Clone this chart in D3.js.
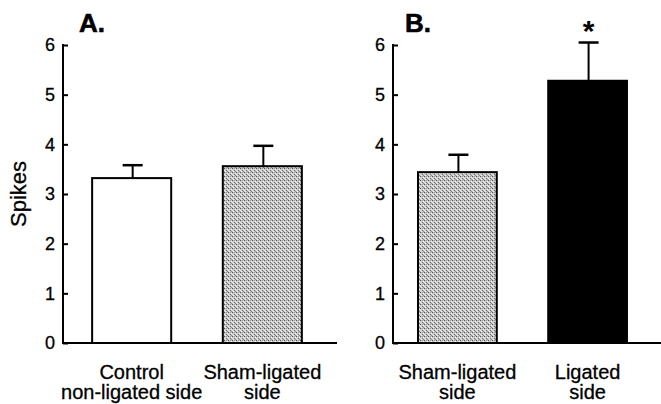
<!DOCTYPE html>
<html>
<head>
<meta charset="utf-8">
<script src="https://d3js.org/d3.v7.min.js"></script>
<style>
  body { margin: 0; background: #fff; }
  text { font-family: "Liberation Sans", Arial, Helvetica, sans-serif; }
</style>
</head>
<body>
<div id="my_dataviz"></div>
<script>
// data (mean spikes + upper error)
var panelTitles = ["A.", "B."];
var catsA = [["Control", "non-ligated side"], ["Sham-ligated", "side"]];
var meansA = [3.32, 3.56];
var errsA = [0.26, 0.41];
var fillsA = ["white", "stipple"];
var catsB = [["Sham-ligated", "side"], ["Ligated", "side"]];
var meansB = [3.44, 5.28];
var errsB = [0.35, 0.77];
var fillsB = ["stipple", "black"];
var signifB = ["", "*"];
var yTicks = [0, 1, 2, 3, 4, 5, 6];

var width = 661, height = 404;

var svg = d3.select("#my_dataviz")
  .append("svg")
    .attr("width", width)
    .attr("height", height);

// stipple pattern for the grey bars
var pat = svg.append("defs").append("pattern")
    .attr("id", "stipple")
    .attr("patternUnits", "userSpaceOnUse")
    .attr("width", 4).attr("height", 4);
pat.append("rect").attr("width", 4).attr("height", 4).attr("fill", "#c4c4c4");
[[0, 0, "#555"], [2, 2, "#707070"], [1, 3, "#eee"], [3, 1, "#fafafa"], [2, 0, "#999"], [0, 2, "#e0e0e0"], [3, 3, "#8c8c8c"], [1, 1, "#d8d8d8"]]
  .forEach(function(p) {
    pat.append("rect").attr("x", p[0]).attr("y", p[1]).attr("width", 1).attr("height", 1).attr("fill", p[2]);
  });

var y = d3.scaleLinear()
  .domain([0, 6])
  .range([343, 45]);

function drawPanel(opt) {
  var g = svg.append("g");

  var x = d3.scaleBand()
    .domain(d3.range(opt.means.length))
    .range(opt.band)
    .paddingInner(0.395)
    .paddingOuter(0.2);

  // y axis, ticks pointing inward
  var yAxis = g.append("g")
    .attr("transform", "translate(" + opt.axisX + ",0)")
    .call(d3.axisRight(y).tickValues(yTicks).tickSize(5).tickFormat(""));
  yAxis.select(".domain").remove();
  yAxis.selectAll("line").attr("stroke", "#000").attr("stroke-width", 2);
  g.append("line")
    .attr("x1", opt.axisX).attr("x2", opt.axisX)
    .attr("y1", y(6) - 1).attr("y2", y(0))
    .attr("stroke", "#000").attr("stroke-width", 2);
  g.selectAll(".ylab")
    .data(yTicks)
    .enter().append("text")
      .attr("x", opt.axisX - 8)
      .attr("y", function(d) { return y(d); })
      .attr("dy", "0.36em")
      .attr("text-anchor", "end")
      .style("font-size", "18px")
      .style("stroke", "#000").style("stroke-width", 0.3)
      .text(function(d) { return d; });

  // bars
  g.selectAll(".bar")
    .data(opt.means)
    .enter().append("rect")
      .attr("x", function(d, i) { return x(i); })
      .attr("y", function(d) { return y(d); })
      .attr("width", x.bandwidth())
      .attr("height", function(d) { return y(0) - y(d); })
      .attr("fill", function(d, i) {
        var f = opt.fills[i];
        return f === "stipple" ? "url(#stipple)" : f;
      })
      .attr("stroke", "#000")
      .attr("stroke-width", 2);

  // error bars (upper only)
  opt.means.forEach(function(m, i) {
    var cx = x(i) + x.bandwidth() / 2 + 1;
    var top = y(m + opt.errs[i]);
    g.append("line")
      .attr("x1", cx).attr("x2", cx)
      .attr("y1", y(m)).attr("y2", top)
      .attr("stroke", "#000").attr("stroke-width", 2);
    g.append("line")
      .attr("x1", cx - 10).attr("x2", cx + 10)
      .attr("y1", top).attr("y2", top)
      .attr("stroke", "#000").attr("stroke-width", 2.5);
    if (opt.signif && opt.signif[i]) {
      g.append("text")
        .attr("x", cx)
        .attr("y", top - 2)
        .attr("text-anchor", "middle")
        .style("font-size", "30px")
        .style("font-weight", "bold")
        .text(opt.signif[i]);
    }
  });

  // x axis line
  g.append("line")
    .attr("x1", opt.axisX - 1).attr("x2", opt.axisEnd)
    .attr("y1", y(0)).attr("y2", y(0))
    .attr("stroke", "#000").attr("stroke-width", 2);

  // category labels
  opt.cats.forEach(function(lines, i) {
    var t = g.append("text")
      .attr("text-anchor", "middle")
      .style("font-size", "20px")
      .style("stroke", "#000").style("stroke-width", 0.3);
    lines.forEach(function(s, j) {
      t.append("tspan")
        .attr("x", x(i) + x.bandwidth() / 2)
        .attr("y", 379 + j * 20)
        .text(s);
    });
  });

  // panel title
  g.append("text")
    .attr("x", opt.titleX)
    .attr("y", 32)
    .style("font-size", "26px")
    .style("font-weight", "bold")
    .style("stroke", "#000").style("stroke-width", 0.6)
    .text(opt.title);
}

drawPanel({title: panelTitles[0], titleX: 79, axisX: 63, axisEnd: 337, band: [66, 328],
  means: meansA, errs: errsA, fills: fillsA, cats: catsA});
drawPanel({title: panelTitles[1], titleX: 405, axisX: 393, axisEnd: 661, band: [392, 653],
  means: meansB, errs: errsB, fills: fillsB, cats: catsB, signif: signifB});

// y axis title
svg.append("text")
  .attr("transform", "translate(26,194) rotate(-90)")
  .attr("text-anchor", "middle")
  .style("font-size", "22px")
  .style("stroke", "#000").style("stroke-width", 0.3)
  .text("Spikes");
</script>
</body>
</html>
